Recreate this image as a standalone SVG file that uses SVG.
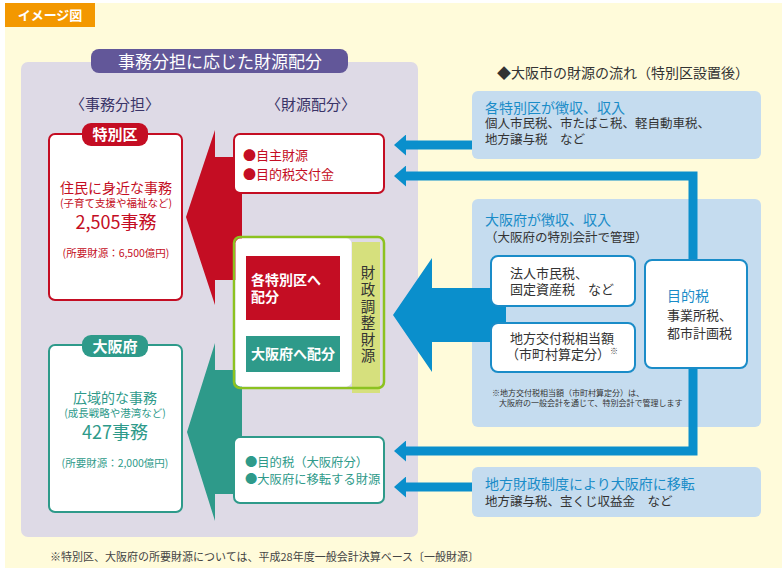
<svg xmlns="http://www.w3.org/2000/svg" width="782" height="571" viewBox="0 0 782 571">
<style>
text{font-family:"Noto Sans CJK JP","Noto Sans",sans-serif}
.red{fill:#C40D23}
.teal{fill:#2E9A8A}
.blue{fill:#1A8CC8}
.dark{fill:#333333}
.lb{fill:#C5DCEF}
.ln{fill:none;stroke:#0A8FCC;stroke-width:9}
.c{text-anchor:middle}
</style>
<defs>
<marker id="ah" markerUnits="userSpaceOnUse" markerWidth="14" markerHeight="21" refX="1" refY="10.5" orient="auto-start-reverse">
<path d="M0,0 L12,10.5 L0,21 Z" fill="#0A8FCC"/>
</marker>
</defs>
<rect width="782" height="571" fill="#FFFFFF"/>
<rect x="5" y="3" width="777" height="565" fill="#FFFBDA"/>
<rect x="5" y="3" width="90" height="24" fill="#F39800"/>
<text x="50" y="20" class="c" font-size="13" font-weight="bold" fill="#FFFFFF">イメージ図</text>

<rect x="21" y="62" width="397" height="475" rx="7" fill="#DEDAE6"/>
<g id="title">
<rect x="91" y="49" width="257" height="24" rx="8" fill="#625799"/>
<text x="220" y="68" class="c" font-size="17" fill="#FFFFFF">事務分担に応じた財源配分</text>
</g>
<text x="115" y="110" class="c" font-size="15" fill="#3A3468">〈事務分担〉</text>
<text x="311" y="110" class="c" font-size="15" fill="#3A3468">〈財源配分〉</text>

<g id="arrows-left">
<polygon points="186,217 215,130 215,157 242,157 242,280 215,280 215,305" fill="#C40D23"/>
<polygon points="187,432 215,343 215,370 242,370 242,494 215,494 215,521" fill="#2E9A8A"/>
</g>

<g id="tokubetsuku">
<rect x="49" y="134" width="133" height="166" rx="6" fill="#FFFFFF" stroke="#C40D23" stroke-width="2"/>
<rect x="82" y="123" width="66" height="23" rx="9" fill="#C40D23"/>
<text x="115" y="140" class="c" font-size="15" font-weight="bold" fill="#FFFFFF">特別区</text>
<text x="116" y="193" class="c red" font-size="14">住民に身近な事務</text>
<text x="116" y="207" class="c red" font-size="10.5">(子育て支援や福祉など)</text>
<text x="116" y="229" class="c red" font-size="18">2,505事務</text>
<text x="116" y="257" class="c red" font-size="10.5">(所要財源：6,500億円)</text>
</g>

<g id="osakafu">
<rect x="49" y="345" width="133" height="167" rx="6" fill="#FFFFFF" stroke="#2E9A8A" stroke-width="2"/>
<rect x="82" y="335" width="66" height="22" rx="9" fill="#2E9A8A"/>
<text x="115" y="352" class="c" font-size="15" font-weight="bold" fill="#FFFFFF">大阪府</text>
<text x="115" y="403" class="c teal" font-size="14">広域的な事務</text>
<text x="115" y="417" class="c teal" font-size="10.5">(成長戦略や港湾など)</text>
<text x="115" y="439" class="c teal" font-size="18">427事務</text>
<text x="115" y="467" class="c teal" font-size="10.5">(所要財源：2,000億円)</text>
</g>

<g id="jishu">
<rect x="234" y="134" width="150" height="59" rx="6" fill="#FFFFFF" stroke="#C40D23" stroke-width="2"/>
<text x="243" y="160" class="red" font-size="13">●自主財源</text>
<text x="243" y="179" class="red" font-size="13">●目的税交付金</text>
</g>

<g id="zaisei">
<rect x="352" y="242" width="28" height="151" fill="#D6E07D"/>
<rect x="234" y="237" width="150" height="151" rx="6" fill="none" stroke="#8CC220" stroke-width="2.5"/>
<rect x="235.5" y="238.5" width="116" height="148" rx="5" fill="#FFFFFF"/>
<rect x="246" y="256" width="94" height="64" fill="#C40D23"/>
<text x="251" y="285" font-size="14" font-weight="bold" fill="#FFFFFF">各特別区へ</text>
<text x="251" y="302" font-size="14" font-weight="bold" fill="#FFFFFF">配分</text>
<rect x="246" y="336" width="94" height="36" fill="#2E9A8A"/>
<text x="293" y="359" class="c" font-size="14" font-weight="bold" fill="#FFFFFF">大阪府へ配分</text>
<g class="dark" font-size="14.5">
<text x="368" y="278" class="c">財</text>
<text x="368" y="295" class="c">政</text>
<text x="368" y="312" class="c">調</text>
<text x="368" y="328" class="c">整</text>
<text x="368" y="345" class="c">財</text>
<text x="368" y="361" class="c">源</text>
</g>
</g>

<g id="mokutekizei-fu">
<rect x="234" y="437" width="150" height="66" rx="6" fill="#FFFFFF" stroke="#2E9A8A" stroke-width="2"/>
<text x="245" y="467" class="teal" font-size="12.3">●目的税（大阪府分）</text>
<text x="245" y="484" class="teal" font-size="12.3">●大阪府に移転する財源</text>
</g>

<text x="497" y="78" font-size="14" class="dark">◆大阪市の財源の流れ（特別区設置後）</text>

<g id="box1">
<rect x="472" y="91" width="289" height="68" rx="6" class="lb"/>
<text x="485" y="113" class="blue" font-size="14">各特別区が徴収、収入</text>
<text x="485" y="128" class="dark" font-size="12.5">個人市民税、市たばこ税、軽自動車税、</text>
<text x="485" y="144" class="dark" font-size="12.5">地方譲与税　など</text>
</g>

<g id="box2">
<rect x="472" y="199" width="289" height="228" rx="6" class="lb"/>
<text x="485" y="225" class="blue" font-size="14">大阪府が徴収、収入</text>
<text x="485" y="242" class="dark" font-size="12.5">（大阪府の特別会計で管理）</text>
</g>

<g id="connectors">
<polygon points="393,315 432,258 432,288 506,288 506,342 432,342 432,372" fill="#0A8FCC"/>
<line x1="472" y1="145" x2="405" y2="145" class="ln" marker-end="url(#ah)"/>
<polyline points="405,176 693,176 693,451 405,451" class="ln" stroke-linejoin="miter" marker-start="url(#ah)" marker-end="url(#ah)"/>
<line x1="472" y1="487" x2="405" y2="487" class="ln" marker-end="url(#ah)"/>
</g>

<g id="hojin">
<rect x="491" y="256" width="144" height="50" rx="7" fill="#FFFFFF" stroke="#1A8CC8" stroke-width="2"/>
<text x="510" y="278" class="dark" font-size="13">法人市民税、</text>
<text x="510" y="294" class="dark" font-size="13">固定資産税　など</text>
</g>
<g id="kofuzei">
<rect x="491" y="323" width="144" height="49" rx="7" fill="#FFFFFF" stroke="#1A8CC8" stroke-width="2"/>
<text x="510" y="343" class="dark" font-size="13">地方交付税相当額</text>
<text x="506" y="359" class="dark" font-size="13">（市町村算定分）</text>
<text x="610" y="354" class="dark" font-size="8">※</text>
</g>
<text x="492" y="396" class="dark" font-size="8">※地方交付税相当額（市町村算定分）は、</text>
<text x="499" y="406" class="dark" font-size="8">大阪府の一般会計を通じて、特別会計で管理します</text>

<g id="mokutekizei">
<rect x="645" y="260" width="102" height="108" rx="7" fill="#FFFFFF" stroke="#1A8CC8" stroke-width="2"/>
<text x="667" y="301" class="blue" font-size="14">目的税</text>
<text x="667" y="320" class="dark" font-size="13">事業所税、</text>
<text x="667" y="338" class="dark" font-size="13">都市計画税</text>
</g>

<g id="box3">
<rect x="472" y="467" width="289" height="50" rx="6" class="lb"/>
<text x="485" y="489" class="blue" font-size="14">地方財政制度により大阪府に移転</text>
<text x="485" y="506" class="dark" font-size="12.5">地方譲与税、宝くじ収益金　など</text>
</g>

<text x="50" y="561" font-size="11" fill="#444444">※特別区、大阪府の所要財源については、平成28年度一般会計決算ベース〔一般財源〕</text>
</svg>
